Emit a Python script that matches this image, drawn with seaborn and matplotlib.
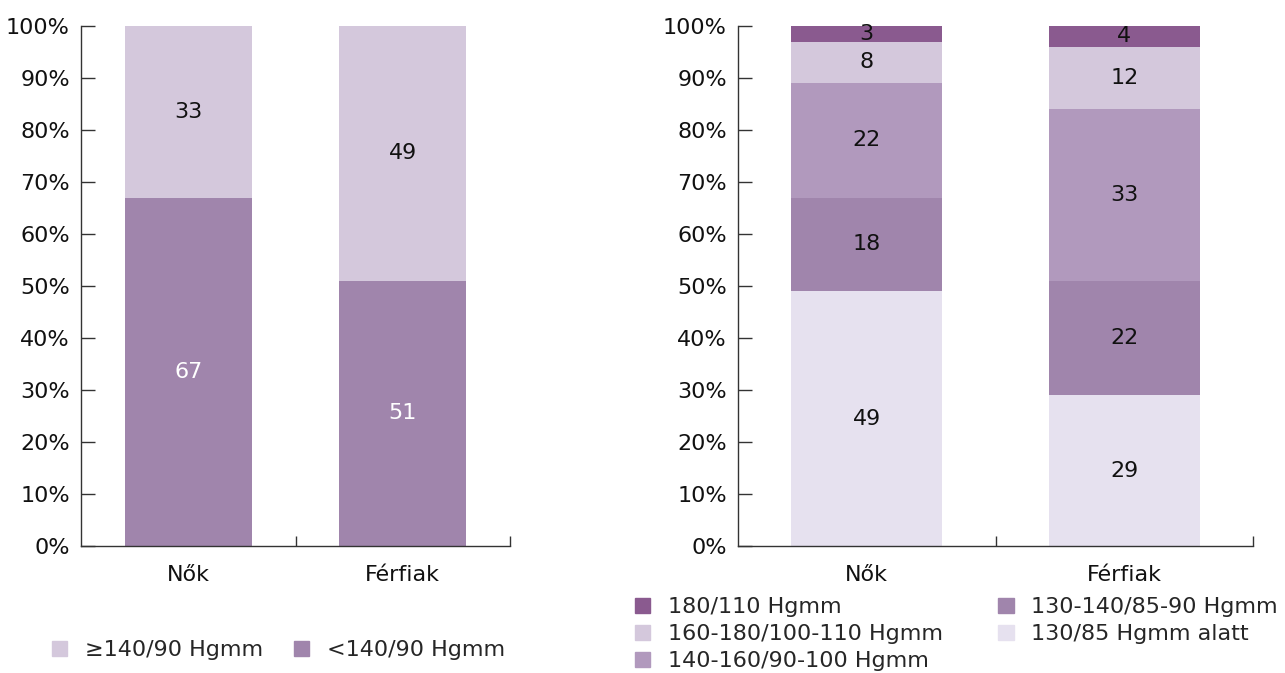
import matplotlib
matplotlib.use("Agg")
import matplotlib.pyplot as plt
from matplotlib.patches import Patch
import numpy as np
import pandas as pd
import seaborn as sns

# Data
groups = ["Nők", "Férfiak"]

left_labels = ["≥140/90 Hgmm", "<140/90 Hgmm"]
left_high = [33, 49]      # ≥140/90 Hgmm
left_normal = [67, 51]    # <140/90 Hgmm

right_labels = ["180/110 Hgmm", "160-180/100-110 Hgmm", "140-160/90-100 Hgmm",
                "130-140/85-90 Hgmm", "130/85 Hgmm alatt"]
# stacked bottom -> top
r_below130 = [49, 29]
r_130_140 = [18, 22]
r_140_160 = [22, 33]
r_160_180 = [8, 12]
r_180 = [3, 4]

yticks = [0, 10, 20, 30, 40, 50, 60, 70, 80, 90, 100]
ytick_labels = [f"{v}%" for v in yticks]

# Colours
c_180 = "#8a5a8f"
c_160 = "#d4c8dc"
c_140 = "#b199bd"
c_130 = "#a085ac"
c_low = "#e6e1ef"

sns.set_theme(style="white")
plt.rcParams["font.family"] = ["DejaVu Sans"]
FS = 16
TXT = "#111111"

fig = plt.figure(figsize=(12.85, 6.73), dpi=100)
ax1 = fig.add_axes([81 / 1285, 1 - 546 / 673, 429 / 1285, 520 / 673])
ax2 = fig.add_axes([738 / 1285, 1 - 546 / 673, 515 / 1285, 520 / 673])


def stacked(ax, layers, colors, width, textcolors):
    """layers: list of value lists bottom->top; draw cumulative bars top first."""
    cum = np.cumsum(np.array(layers, dtype=float), axis=0)
    for i in range(len(layers) - 1, -1, -1):
        df = pd.DataFrame({"g": groups, "v": cum[i]})
        sns.barplot(data=df, x="g", y="v", order=groups, color=colors[i],
                    width=width, saturation=1, ax=ax, errorbar=None,
                    linewidth=0)
    bottoms = cum - np.array(layers, dtype=float)
    for i, vals in enumerate(layers):
        for j, v in enumerate(vals):
            ax.text(j, bottoms[i][j] + v / 2, f"{v}", ha="center", va="center",
                    fontsize=FS, color=textcolors[i])


stacked(ax1, [left_normal, left_high], [c_130, c_160], 0.59, ["white", TXT])
stacked(ax2, [r_below130, r_130_140, r_140_160, r_160_180, r_180],
        [c_low, c_130, c_140, c_160, c_180], 0.585, [TXT] * 5)

for ax in (ax1, ax2):
    ax.set_xlim(-0.5, 1.5)
    ax.set_ylim(0, 100)
    ax.set_xlabel("")
    ax.set_ylabel("")
    ax.set_yticks(yticks)
    ax.set_yticklabels(ytick_labels, fontsize=FS, color=TXT)
    ax.tick_params(axis="y", direction="in", length=10, width=1,
                   color="#333333", pad=8, left=True)
    ax.set_xticks([0, 1])
    ax.set_xticklabels(groups, fontsize=FS, color=TXT)
    ax.set_xticks([0.5, 1.5], minor=True)
    ax.tick_params(axis="x", which="major", length=0, pad=14)
    ax.tick_params(axis="x", which="minor", direction="in", length=7, width=1,
                   color="#333333", bottom=True)
    for s in ("top", "right"):
        ax.spines[s].set_visible(False)
    for s in ("left", "bottom"):
        ax.spines[s].set_color("#333333")
        ax.spines[s].set_linewidth(1)
    ax.grid(False)

# Legends
h1 = [Patch(color=c_160), Patch(color=c_130)]
fig.legend(h1, left_labels, loc="center left",
           bbox_to_anchor=(52 / 1285, 1 - 650 / 673), ncol=2, frameon=False,
           fontsize=FS, handlelength=0.68, handleheight=0.68,
           handletextpad=0.8, columnspacing=1.4, borderpad=0, borderaxespad=0)

h2 = [Patch(color=c) for c in (c_180, c_160, c_140, c_130, c_low)]
fig.legend(h2, right_labels, loc="upper left",
           bbox_to_anchor=(635 / 1285, 1 - 597 / 673), ncol=2, frameon=False,
           fontsize=FS, handlelength=0.68, handleheight=0.68,
           handletextpad=0.8, columnspacing=2.5, labelspacing=0.32,
           borderpad=0, borderaxespad=0)

fig.savefig("out.png", dpi=100)
